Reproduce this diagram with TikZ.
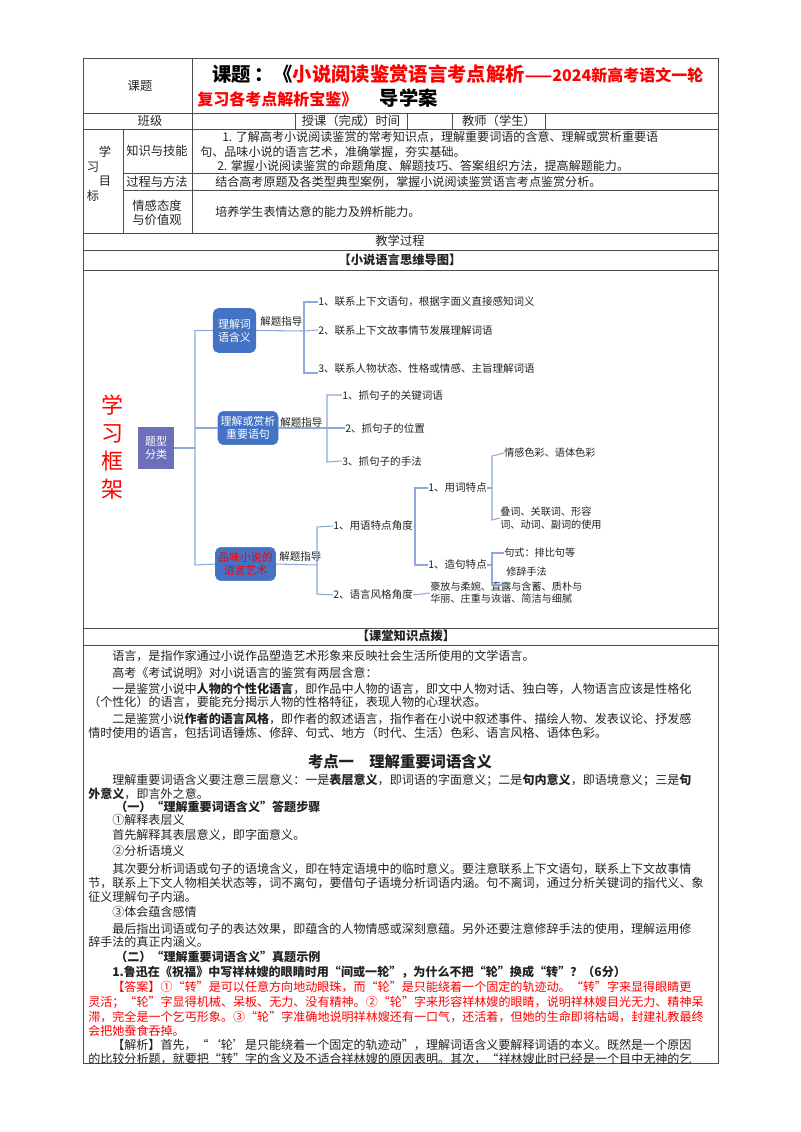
\documentclass[tikz,border=0pt]{standalone}
\usepackage{fontspec}
\setmainfont{Noto Sans CJK SC}
\definecolor{lb}{HTML}{8EA9DB}
\definecolor{bb}{HTML}{4472C4}
\definecolor{sl}{HTML}{6B70B8}
\definecolor{rd}{HTML}{FF0000}
\definecolor{tx}{HTML}{222222}
\begin{document}
\begin{tikzpicture}[x=0.75pt,y=-0.75pt,
  tl/.style={anchor=west,inner sep=0pt,font=\fontsize{9.05}{11}\selectfont,text=tx},
  tc/.style={inner sep=0pt,font=\fontsize{9.2}{11}\selectfont,text=tx},
  mm/.style={anchor=west,inner sep=0pt,font=\fontsize{7.9}{9.5}\selectfont,text=tx},
  sm/.style={anchor=west,inner sep=0pt,font=\fontsize{7.6}{9.2}\selectfont,text=tx},
  box/.style={draw=bb,fill=bb,rounded corners=4pt,text=white,align=center,inner sep=1pt,font=\fontsize{8.2}{9.6}\selectfont},
  br/.style={draw=lb,line width=0.8pt},
  grid/.style={draw=black!70,line width=0.7pt}]
\useasboundingbox (0,0) rectangle (800,1132);
% table lines
\draw[grid] (83,58) rectangle (718,1063);
\foreach \y in {113,129,233,250,270,628,645} \draw[grid] (83,\y) -- (718,\y);
\draw[grid] (192,58) -- (192,233);
\draw[grid] (123,129) -- (123,233);
\draw[grid] (123,173) -- (718,173);
\draw[grid] (123,190) -- (718,190);
\foreach \x in {295,407,452,545} \draw[grid] (\x,113) -- (\x,129);
% header texts
\node[tc] (kt) at (140,86) {课题};
\node[anchor=west,inner sep=0pt] (t1) at (212,74) {\fontsize{14.5}{16}\selectfont\bfseries 课题\,：《\textcolor{rd}{小说阅读鉴赏语言考点解析\fontsize{12}{14}\selectfont——2024新高考语文一轮}};
\node[anchor=west,inner sep=0pt] (t2) at (197,98) {\fontsize{12}{14}\selectfont\bfseries\textcolor{rd}{复习各考点解析宝鉴》}\hspace{1.4em}\fontsize{14.5}{16}\selectfont\bfseries 导学案};
\node[tc] (bj) at (150,121) {班级};
\node[tc] (sk) at (351,121) {授课（完成）时间};
\node[tc] (js) at (499,121) {教师（学生）};
\node[tc] (x1) at (105,152) {学};
\node[tc] (x2) at (93,167) {习};
\node[tc] (x3) at (105,181) {目};
\node[tc] (x4) at (93,196) {标};
\node[tc] (zs) at (157,151) {知识与技能};
\node[tc] (gc) at (157,182) {过程与方法};
\node[tc,align=center] (qg) at (157,213) {情感态度\\与价值观};
\node[tl] (c1) at (222,137) {1. 了解高考小说阅读鉴赏的常考知识点，理解重要词语的含意、理解或赏析重要语};
\node[tl] (c2) at (200,152) {句、品味小说的语言艺术，准确掌握，夯实基础。};
\node[tl] (c3) at (217,166) {2. 掌握小说阅读鉴赏的命题角度、解题技巧、答案组织方法，提高解题能力。};
\node[tl] (c4) at (215,182) {结合高考原题及各类型典型案例，掌握小说阅读鉴赏语言考点鉴赏分析。};
\node[tl] (c5) at (215,212) {培养学生表情达意的能力及辨析能力。};
\node[tc] (jx) at (400,241) {教学过程};
\node[tc,font=\fontsize{9.2}{11}\selectfont\bfseries] (sw) at (400,260) {【小说语言思维导图】};
\node[tc,font=\fontsize{9.2}{11}\selectfont\bfseries] (kz) at (406,636) {【课堂知识点拨】};
% mind map
\node[text=rd,align=center,font=\fontsize{16.5}{21}\selectfont,inner sep=0pt] (xx) at (112,447) {学\\习\\框\\架};
\node[fill=sl,text=white,align=center,inner sep=0pt,minimum width=27pt,minimum height=31pt,font=\fontsize{8.2}{9.6}\selectfont] (tx) at (156,448) {题型\\分类};
\node[box,minimum width=32pt,minimum height=33pt] (b1) at (234.5,330.5) {理解词\\语含义};
\node[box,minimum width=45pt,minimum height=25pt] (b2) at (248,428) {理解或赏析\\重要语句};
\node[box,minimum width=45pt,minimum height=25pt,text=rd] (b3) at (245.5,564) {品味小说的\\语言艺术};
\coordinate (tr) at (195,448);
\draw[br] (tx.east) -- (tr);
\draw[br] (b1.west) -| (195,565) -- (b3.west);
\draw[br] (195,428) -- (b2.west);
% box1
\node[mm] (g1) at (260,322) {解题指导};
\draw[br] (b1.east) -- (304,331);
\node[mm] (i11) at (318,302) {1、联系上下文语句，根据字面义直接感知词义};
\node[mm] (i12) at (318,330) {2、联系上下文故事情节发展理解词语};
\node[mm] (i13) at (318,369) {3、联系人物状态、性格或情感、主旨理解词语};
\draw[br] (i11.west) -- (304,302) -- (304,373) -- (i13.west|-0,373);
\draw[br] (304,331) -- (i12.west);
% box2
\node[mm] (g2) at (280,423) {解题指导};
\draw[br] (b2.east) -- (327,428);
\node[mm] (i21) at (342,395) {1、抓句子的关键词语};
\node[mm] (i22) at (345,428) {2、抓句子的位置};
\node[mm] (i23) at (342,461) {3、抓句子的手法};
\draw[br] (i21.west) -- (327,395) -- (327,462) -- (i23.west);
\draw[br] (327,428) -- (i22.west);
% box3
\node[mm] (g3) at (279,556) {解题指导};
\draw[br] (b3.east) -- (317,565);
\node[mm] (i31) at (333,526) {1、用语特点角度};
\node[mm] (i32) at (333,595) {2、语言风格角度};
\draw[br] (i31.west) -- (317,527) -- (317,594) -- (i32.west);
\node[sm,align=left] (fg) at (430,593) {豪放与柔婉、直露与含蓄、质朴与\\华丽、庄重与诙谐、简洁与细腻};
\draw[br] (i32.east) -- (fg.west);
\node[mm] (yc) at (428,488) {1、用词特点};
\node[mm] (zj) at (428,565) {1、造句特点};
\draw[br] (i31.east) -- (415,527);
\draw[br] (yc.west) -- (415,488) -- (415,565) -- (zj.west);
\node[sm] (qs) at (504,453) {情感色彩、语体色彩};
\node[sm,align=left] (dc) at (500,518) {叠词、关联词、形容\\词、动词、副词的使用};
\draw[br] (qs.west) -- (492,456) -- (492,520) -- (dc.west);
\draw[br] (yc.east) -- (492,488);
\node[sm] (jsh) at (504,553) {句式：排比句等};
\node[sm] (xc) at (506,572) {修辞手法};
\draw[br] (jsh.west) -- (492,553) -- (492,585) -- (506,585);
\draw[br] (zj.east) -- (492,565);
% body
\begin{scope}
\clip (83,645) rectangle (718,1063);
\node[tl] (l1) at (112,656) {语言，是指作家通过小说作品塑造艺术形象来反映社会生活所使用的文学语言。};
\node[tl] (l2) at (112,673) {高考《考试说明》对小说语言的鉴赏有两层含意：};
\node[tl] (l3) at (112,689) {一是鉴赏小说中\textbf{人物的个性化语言}，即作品中人物的语言，即文中人物对话、独白等，人物语言应该是性格化};
\node[tl] (l4) at (88,702) {（个性化）的语言，要能充分揭示人物的性格特征，表现人物的心理状态。};
\node[tl] (l5) at (112,719) {二是鉴赏小说\textbf{作者的语言风格}，即作者的叙述语言，指作者在小说中叙述事件、描绘人物、发表议论、抒发感};
\node[tl] (l6) at (88,733) {情时使用的语言，包括词语锤炼、修辞、句式、地方（时代、生活）色彩、语言风格、语体色彩。};
\node[tc,font=\fontsize{11.5}{13}\selectfont\bfseries] (h1) at (400,762) {考点一\hspace{1em}理解重要词语含义};
\node[tl] (l7) at (112,780) {理解重要词语含义要注意三层意义：一是\textbf{表层意义}，即词语的字面意义；二是\textbf{句内意义}，即语境意义；三是\textbf{句}};
\node[tl] (l8) at (88,794) {\textbf{外意义}，即言外之意。};
\node[tl,font=\fontsize{9.05}{11}\selectfont\bfseries] (l9) at (115,807) {（一）“理解重要词语含义”答题步骤};
\node[tl] (l10) at (112,820) {①解释表层义};
\node[tl] (l11) at (112,835) {首先解释其表层意义，即字面意义。};
\node[tl] (l12) at (112,851) {②分析语境义};
\node[tl] (l13) at (112,869) {其次要分析词语或句子的语境含义，即在特定语境中的临时意义。要注意联系上下文语句，联系上下文故事情};
\node[tl] (l14) at (88,883) {节，联系上下文人物相关状态等，词不离句，要借句子语境分析词语内涵。句不离词，通过分析关键词的指代义、象};
\node[tl] (l15) at (88,897) {征义理解句子内涵。};
\node[tl] (l16) at (112,912) {③体会蕴含感情};
\node[tl] (l17) at (112,929) {最后指出词语或句子的表达效果，即蕴含的人物情感或深刻意蕴。另外还要注意修辞手法的使用，理解运用修};
\node[tl] (l18) at (88,942) {辞手法的真正内涵义。};
\node[tl,font=\fontsize{9.05}{11}\selectfont\bfseries] (l19) at (115,957) {（二）“理解重要词语含义”真题示例};
\node[tl,font=\fontsize{9.05}{11}\selectfont\bfseries] (l20) at (112,972) {1.鲁迅在《祝福》中写祥林嫂的眼睛时用“间或一轮”，为什么不把“轮”换成“转”？（6分）};
\node[tl,text=rd] (l21) at (112,987) {【答案】①“转”是可以任意方向地动眼珠，而“轮”是只能绕着一个固定的轨迹动。“转”字来显得眼睛更};
\node[tl,text=rd] (l22) at (88,1002) {灵活；“轮”字显得机械、呆板、无力、没有精神。②“轮”字来形容祥林嫂的眼睛，说明祥林嫂目光无力、精神呆};
\node[tl,text=rd] (l23) at (88,1017) {滞，完全是一个乞丐形象。③“轮”字准确地说明祥林嫂还有一口气，还活着，但她的生命即将枯竭，封建礼教最终};
\node[tl,text=rd] (l24) at (88,1031) {会把她蚕食吞掉。};
\node[tl] (l25) at (112,1045) {【解析】首先，“‘轮’是只能绕着一个固定的轨迹动”，理解词语含义要解释词语的本义。既然是一个原因};
\node[tl] (l26) at (88,1059) {的比较分析题，就要把“转”字的含义及不适合祥林嫂的原因表明。其次，“祥林嫂此时已经是一个目中无神的乞};
\end{scope}
\end{tikzpicture}
\end{document}
